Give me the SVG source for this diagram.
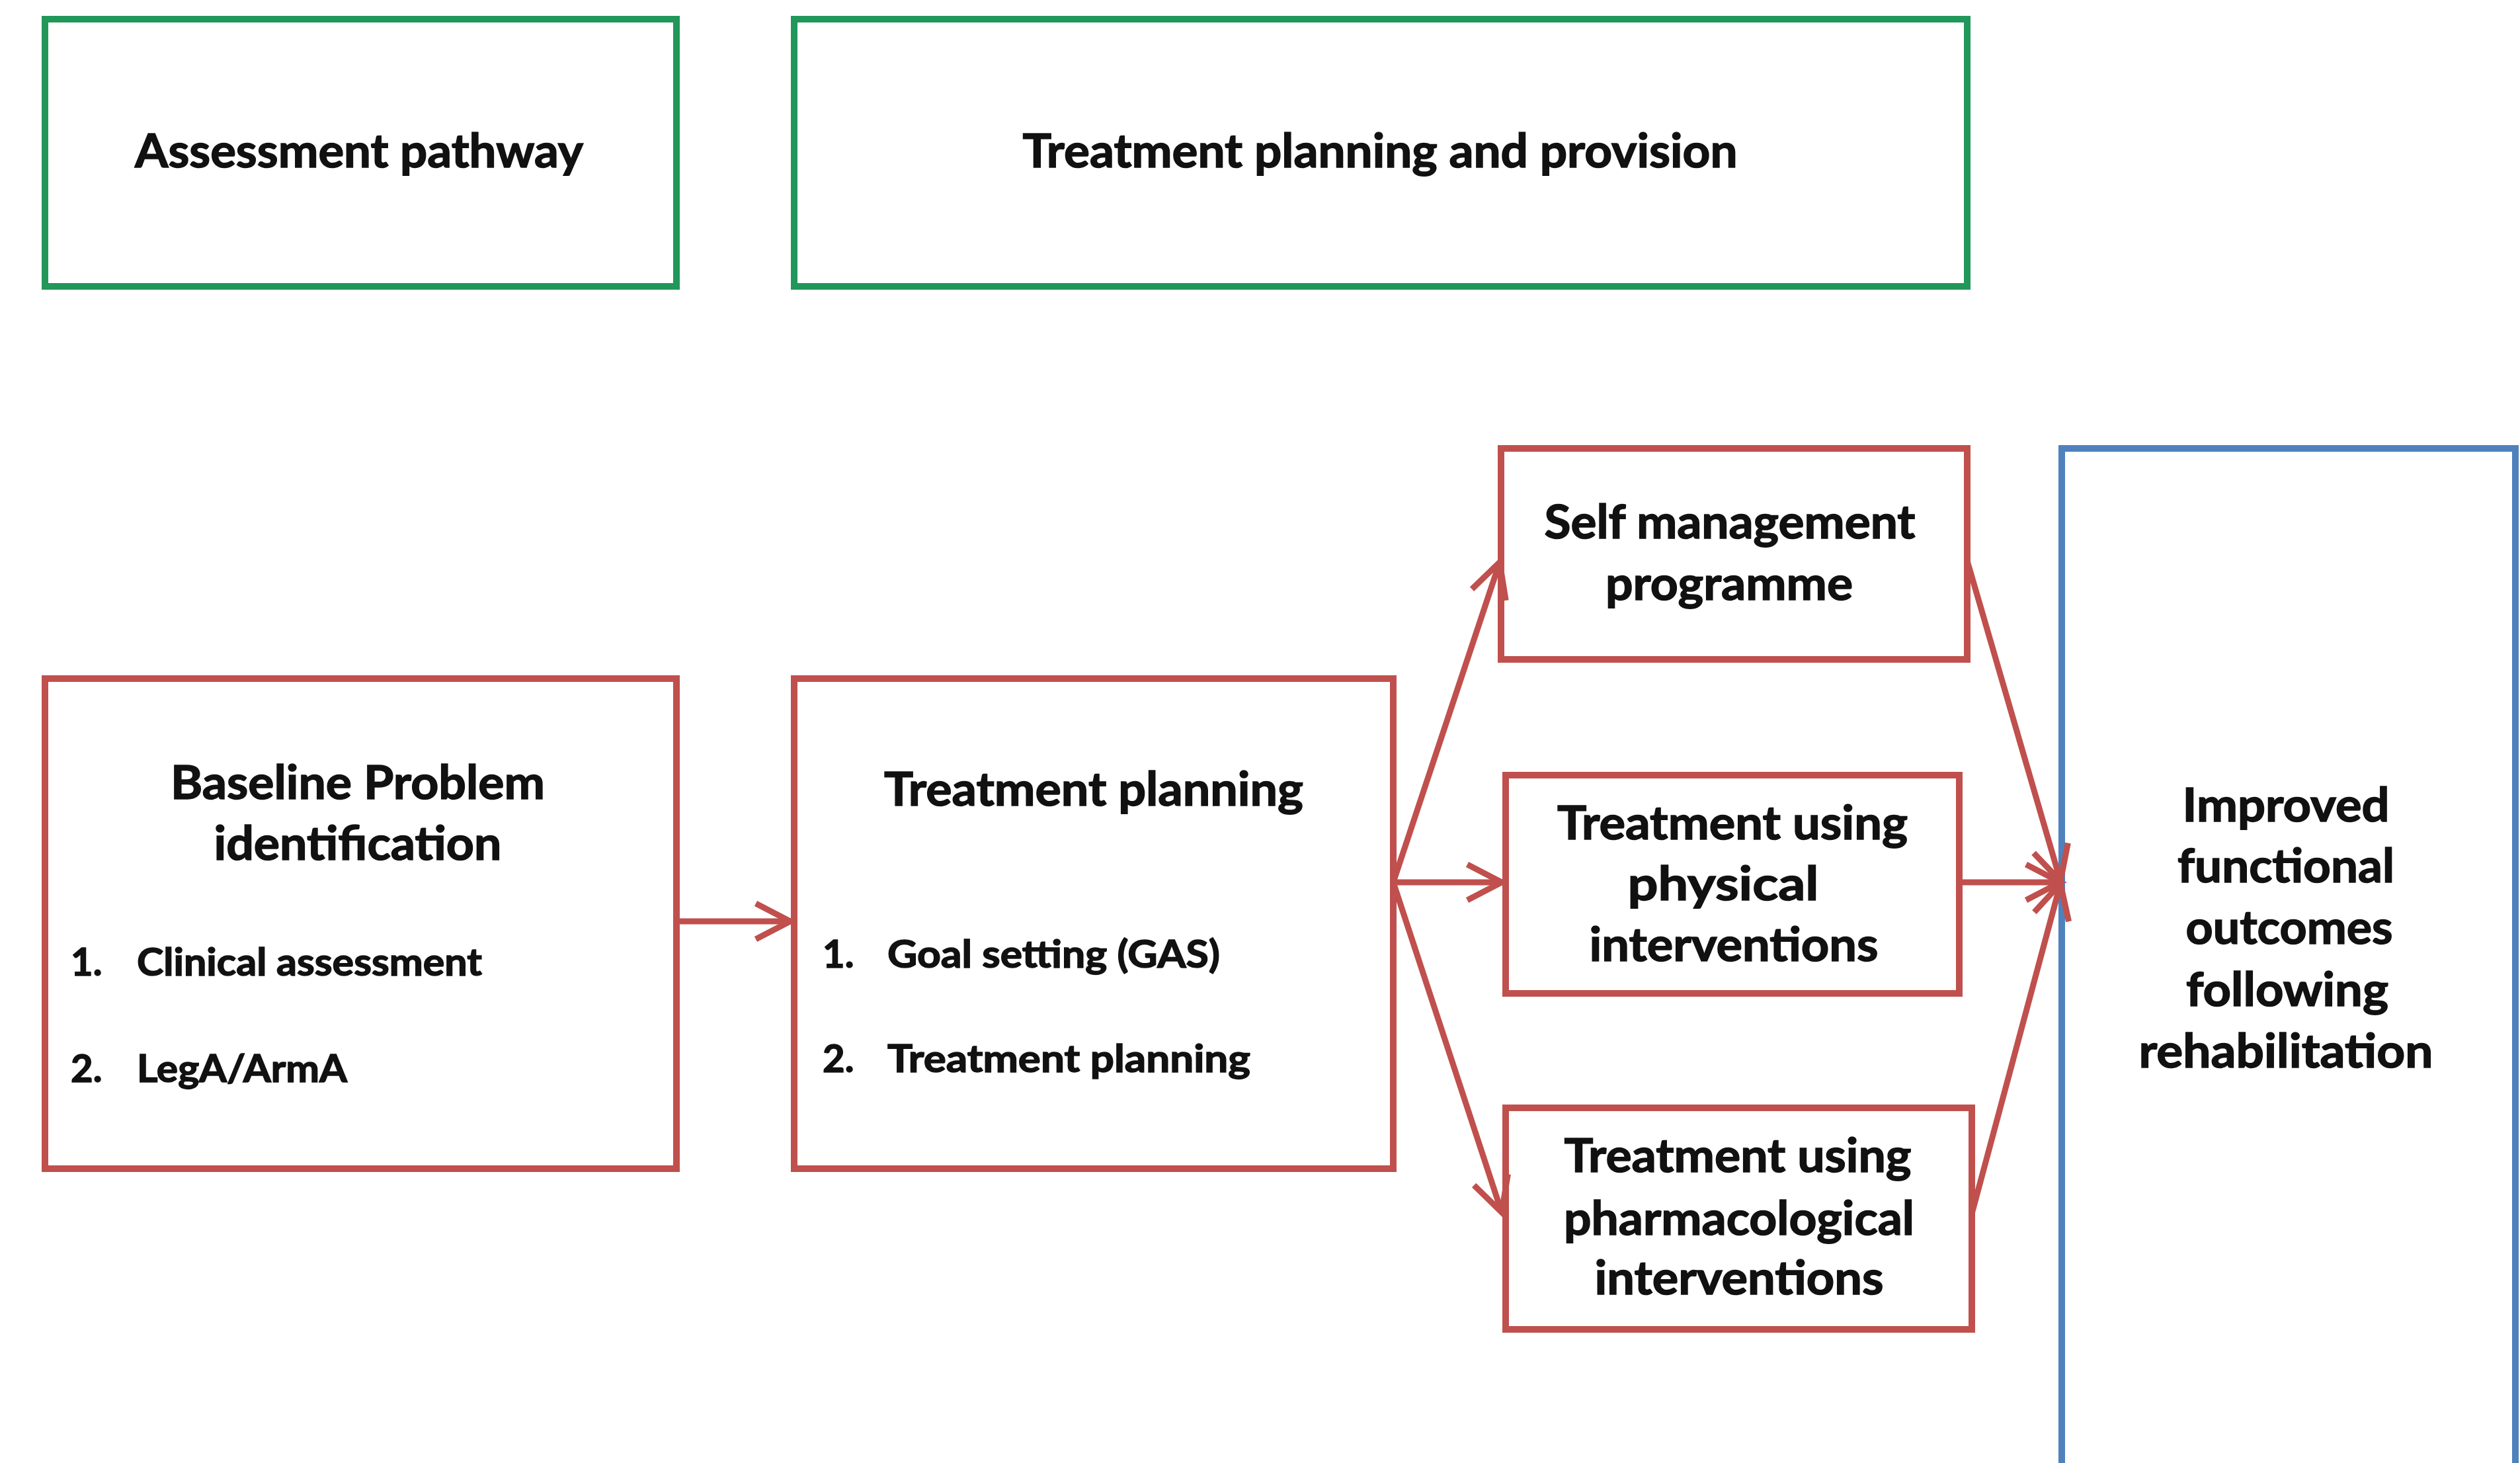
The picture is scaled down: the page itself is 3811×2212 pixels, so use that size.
<svg xmlns="http://www.w3.org/2000/svg" width="3811" height="2212" viewBox="0 0 3811 2212">
<defs>
<style>
.g{fill:#ffffff;stroke:#21975A;stroke-width:10}
.r{fill:#ffffff;stroke:#C0504D;stroke-width:10}
.b{fill:#ffffff;stroke:#4F81BD;stroke-width:10}
.t{font-family:Lato,"Open Sans","Liberation Sans",sans-serif;font-weight:bold;fill:#111111;stroke:#111111;stroke-width:1.5}
.h{font-size:70px}
.s{font-size:58px}
.c{text-anchor:middle}
.ln{stroke:#C0504D;stroke-width:9;fill:none}
</style>
<marker id="ah" markerUnits="userSpaceOnUse" markerWidth="80" markerHeight="80" viewBox="-60 -40 70 80" refX="0" refY="0" orient="auto">
<path d="M-52,-27 L0,0 L-52,27" fill="none" stroke="#C0504D" stroke-width="9" stroke-linejoin="miter"/>
</marker>
</defs>
<rect width="3811" height="2212" fill="#ffffff"/>
<g id="assessment-pathway">
<rect class="g" x="68" y="29" width="955" height="404"/>
<text class="t h c" x="543" y="253" textLength="678" lengthAdjust="spacingAndGlyphs">Assessment pathway</text>
</g>
<g id="treatment-planning-provision">
<rect class="g" x="1201" y="29" width="1774" height="404"/>
<text class="t h c" x="2087" y="253" textLength="1081" lengthAdjust="spacingAndGlyphs">Treatment planning and provision</text>
</g>
<g id="baseline">
<rect class="r" x="68" y="1026" width="955" height="741"/>
<text class="t h c" x="541" y="1208" textLength="566" lengthAdjust="spacingAndGlyphs">Baseline Problem</text>
<text class="t h c" x="541" y="1300" textLength="435" lengthAdjust="spacingAndGlyphs">identification</text>
<text class="t s" x="107" y="1475">1.</text>
<text class="t s" x="207" y="1475" textLength="522" lengthAdjust="spacingAndGlyphs">Clinical assessment</text>
<text class="t s" x="107" y="1636">2.</text>
<text class="t s" x="207" y="1636" textLength="318" lengthAdjust="spacingAndGlyphs">LegA/ArmA</text>
</g>
<g id="treatment-planning">
<rect class="r" x="1201" y="1026" width="906" height="741"/>
<text class="t h c" x="1654" y="1218" textLength="634" lengthAdjust="spacingAndGlyphs">Treatment planning</text>
<text class="t s" x="1244" y="1463">1.</text>
<text class="t s" x="1342" y="1463" textLength="503" lengthAdjust="spacingAndGlyphs">Goal setting (GAS)</text>
<text class="t s" x="1244" y="1621">2.</text>
<text class="t s" x="1342" y="1621" textLength="549" lengthAdjust="spacingAndGlyphs">Treatment planning</text>
</g>
<g id="self-management">
<rect class="r" x="2270" y="678" width="705" height="319"/>
<text class="t h c" x="2616" y="814" textLength="561" lengthAdjust="spacingAndGlyphs">Self management</text>
<text class="t h c" x="2615" y="907" textLength="374" lengthAdjust="spacingAndGlyphs">programme</text>
</g>
<g id="physical">
<rect class="r" x="2277" y="1172" width="686" height="330"/>
<text class="t h c" x="2620" y="1269" textLength="530" lengthAdjust="spacingAndGlyphs">Treatment using</text>
<text class="t h c" x="2606" y="1361" textLength="289" lengthAdjust="spacingAndGlyphs">physical</text>
<text class="t h c" x="2622" y="1453" textLength="437" lengthAdjust="spacingAndGlyphs">interventions</text>
</g>
<g id="pharmacological">
<rect class="r" x="2277" y="1675" width="705" height="335"/>
<text class="t h c" x="2628" y="1772" textLength="525" lengthAdjust="spacingAndGlyphs">Treatment using</text>
<text class="t h c" x="2630" y="1867" textLength="530" lengthAdjust="spacingAndGlyphs">pharmacological</text>
<text class="t h c" x="2630" y="1957" textLength="437" lengthAdjust="spacingAndGlyphs">interventions</text>
</g>
<g id="improved-outcomes">
<rect class="b" x="3118" y="678" width="686" height="1600"/>
<text class="t h c" x="3457" y="1242" textLength="313" lengthAdjust="spacingAndGlyphs">Improved</text>
<text class="t h c" x="3457" y="1334" textLength="328" lengthAdjust="spacingAndGlyphs">functional</text>
<text class="t h c" x="3462" y="1427" textLength="313" lengthAdjust="spacingAndGlyphs">outcomes</text>
<text class="t h c" x="3459" y="1521" textLength="306" lengthAdjust="spacingAndGlyphs">following</text>
<text class="t h c" x="3457" y="1614" textLength="445" lengthAdjust="spacingAndGlyphs">rehabilitation</text>
</g>
<g id="connectors">
<line class="ln" x1="1023" y1="1393" x2="1195" y2="1393" marker-end="url(#ah)"/>
<line class="ln" x1="2107" y1="1334" x2="2268" y2="850" marker-end="url(#ah)"/>
<line class="ln" x1="2107" y1="1334" x2="2271" y2="1334" marker-end="url(#ah)"/>
<line class="ln" x1="2107" y1="1334" x2="2271" y2="1833" marker-end="url(#ah)"/>
<line class="ln" x1="2975" y1="848" x2="3116" y2="1332" marker-end="url(#ah)"/>
<line class="ln" x1="2963" y1="1334" x2="3116" y2="1334" marker-end="url(#ah)"/>
<line class="ln" x1="2982" y1="1835" x2="3116" y2="1336" marker-end="url(#ah)"/>
</g>
</svg>
